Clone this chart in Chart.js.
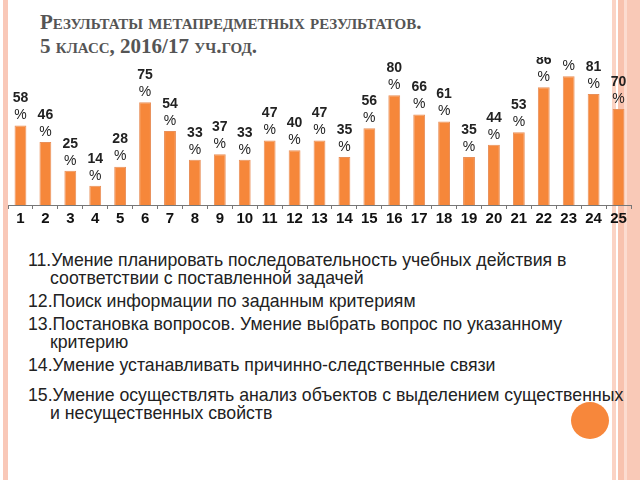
<!DOCTYPE html>
<html>
<head>
<meta charset="utf-8">
<script src="https://cdn.jsdelivr.net/npm/chart.js@4"></script>
<style>
  html, body { margin: 0; padding: 0; background: #fff; }
  body { width: 640px; height: 480px; position: relative; overflow: hidden; }
  .stripe { position: absolute; top: 0; height: 480px; }
  .title {
    position: absolute; left: 40px; top: 10px;
    font-family: 'Liberation Serif', serif; font-weight: bold;
    font-variant: small-caps; font-size: 21px; line-height: 24px;
    color: #555;
  }
  #wrap { position: absolute; left: 0; top: 57px; width: 640px; height: 172px; }
  .list {
    position: absolute; left: 28px; top: 251px; width: 600px;
    font-family: 'Liberation Sans', Arial, sans-serif;
    font-size: 17.7px; line-height: 18px; color: #222;
  }
  .list div { padding-left: 22px; text-indent: -22px; margin-bottom: 5px; }
  .dot {
    position: absolute; left: 571px; top: 402px; width: 38px; height: 37px;
    border-radius: 50%; background: #F7873B;
  }
</style>
</head>
<body>
<div class="stripe" style="left:3px;width:5px;background:#F9C8B8"></div>
<div class="stripe" style="left:612px;width:4px;background:#FBD3C4"></div>
<div class="stripe" style="left:618px;width:6px;background:#F8C2AE"></div>
<div class="stripe" style="left:624px;width:3px;background:#FCDCD0"></div>
<div class="stripe" style="left:627px;width:13px;background:#F9C9B7"></div>

<div class="title">Результаты метапредметных результатов.<br>5 класс, 2016/17 уч.год.</div>

<div id="wrap"><canvas id="chart"></canvas></div>

<div class="dot"></div>
<div class="list">
  <div>11.Умение планировать последовательность учебных действия в соответствии с поставленной задачей</div>
  <div>12.Поиск информации по заданным критериям</div>
  <div>13.Постановка вопросов. Умение выбрать вопрос по указанному критерию</div>
  <div style="margin-bottom:12px">14.Умение устанавливать причинно-следственные связи</div>
  <div>15.Умение осуществлять анализ объектов с выделением существенных и несущественных свойств</div>
</div>

<script>
const categories = ['1','2','3','4','5','6','7','8','9','10','11','12','13','14','15','16','17','18','19','20','21','22','23','24','25'];
const values = [58, 46, 25, 14, 28, 75, 54, 33, 37, 33, 47, 40, 47, 35, 56, 80, 66, 61, 35, 44, 53, 86, 94, 81, 70];

// value + "%" on two lines above each bar
const barLabels = {
  id: 'barLabels',
  afterDatasetsDraw(chart) {
    const ctx = chart.ctx;
    const meta = chart.getDatasetMeta(0);
    ctx.save();
    ctx.textAlign = 'center';
    ctx.textBaseline = 'middle';
    ctx.fillStyle = '#222';
    meta.data.forEach((bar, i) => {
      ctx.font = 'bold 14px "Liberation Sans", Arial, sans-serif';
      ctx.fillText(String(values[i]), bar.x, bar.y - 27);
      ctx.font = '14px "Liberation Sans", Arial, sans-serif';
      ctx.fillText('%', bar.x, bar.y - 10);
    });
    ctx.restore();
  }
};

new Chart(document.getElementById('chart'), {
  type: 'bar',
  data: {
    labels: categories,
    datasets: [{
      data: values,
      backgroundColor: '#F6873A',
      borderColor: '#E9905A',
      borderWidth: 1,
      barPercentage: 0.95,
      categoryPercentage: 0.5
    }]
  },
  options: {
    responsive: true,
    maintainAspectRatio: false,
    animation: false,
    layout: { padding: { left: 8, right: 9, top: 0, bottom: 0 } },
    plugins: { legend: { display: false }, tooltip: { enabled: false } },
    scales: {
      y: { display: false, min: 0, max: 108 },
      x: {
        border: { display: true, color: '#777', width: 1 },
        grid: { drawOnChartArea: false, drawTicks: true, tickLength: 4, color: '#777', offset: true },
        ticks: {
          color: '#111', padding: 1,
          font: { family: 'Liberation Sans', size: 15, weight: 'bold' }
        }
      }
    }
  },
  plugins: [barLabels]
});
</script>
</body>
</html>
